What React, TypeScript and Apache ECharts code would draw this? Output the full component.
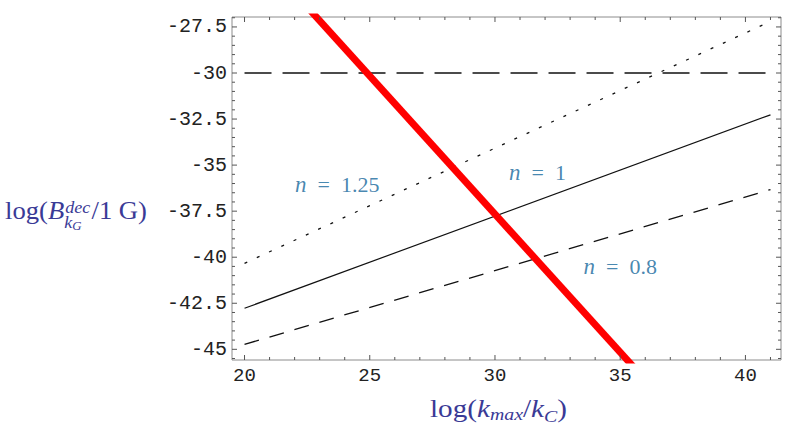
import React, { useEffect, useRef } from "react";
import * as echarts from "echarts";

// ---- data ----
const lineX = [20, 41];
const nOne = [-42.77, -32.27]; // n = 1 (solid)
const nPoint8 = [-44.73, -36.33]; // n = 0.8 (dashed)
const nOnePoint25 = [-40.33, -27.2]; // n = 1.25 (dotted)
const bound = [-30, -30]; // horizontal long dash
const redLine = [-22.66, -54.16]; // thick red

const xTickLabels = [20, 25, 30, 35, 40];
const xMinorTicks = [20, 21, 22, 23, 24, 25, 26, 27, 28, 29, 30, 31, 32, 33, 34, 35, 36, 37, 38, 39, 40, 41];
const yTickLabels = [-45, -42.5, -40, -37.5, -35, -32.5, -30, -27.5];
const yMinorTicks: number[] = [
  -45.5, -45, -44.5, -44, -43.5, -43, -42.5, -42, -41.5, -41, -40.5, -40, -39.5, -39, -38.5, -38,
  -37.5, -37, -36.5, -36, -35.5, -35, -34.5, -34, -33.5, -33, -32.5, -32, -31.5, -31, -30.5, -30,
  -29.5, -29, -28.5, -28, -27.5, -27,
];

const annotations = [
  { name: "1.25", x: 23.7, y: -36.05 },
  { name: "1", x: 31.7, y: -35.4 },
  { name: "0.8", x: 35.0, y: -40.53 },
];

const X_MIN = 19.5;
const X_MAX = 41.42;
const Y_MIN = -45.58;
const Y_MAX = -26.96;

const pairs = (ys: number[]) => lineX.map((x, i) => [x, ys[i]]);

const SERIF = "Liberation Serif";
const TITLE_COLOR = "#3a3a96";
const ANN_COLOR = "#17689c";

let ctx2d: CanvasRenderingContext2D | null = null;
const fontStr = (size: number, italic: boolean) => `${italic ? "italic " : ""}${size}px "${SERIF}"`;
const measure = (t: string, size: number, italic: boolean) => {
  if (!ctx2d) ctx2d = document.createElement("canvas").getContext("2d");
  if (!ctx2d) return t.length * size * 0.5;
  ctx2d.font = fontStr(size, italic);
  return ctx2d.measureText(t).width;
};

type Piece = { t: string; s: number; i?: boolean; base?: number; row?: "sup" | "sub" | "after"; gap?: number };

// lay out text fragments left to right; "sup" fragments are stacked above "sub" fragments
function titleGroup(pieces: Piece[], x0: number, baseline: number, targetWidth: number) {
  const children: any[] = [];
  let x = 0;
  let stackX = -1;
  let supEnd = 0;
  for (const p of pieces) {
    if (p.row === "sup" && stackX < 0) {
      stackX = x;
    }
    if (p.row === "sub" && supEnd === 0) {
      supEnd = x;
      x = stackX;
    }
    if (p.row === "after") {
      x = Math.max(x, supEnd);
    }
    x += p.gap ?? 0;
    const w = measure(p.t, p.s, !!p.i);
    const b = p.base ?? 0;
    children.push({
      type: "text",
      x,
      y: b - 0.35 * p.s,
      style: {
        text: p.t,
        fill: TITLE_COLOR,
        font: fontStr(p.s, !!p.i),
        verticalAlign: "middle",
        align: "left",
      },
    });
    x += w;
  }
  return {
    type: "group",
    x: x0,
    y: baseline,
    scaleX: targetWidth / x,
    children,
  };
}

export default function App() {
  const ref = useRef<HTMLDivElement>(null);
  useEffect(() => {
    document.body.style.margin = "0";
    if (!ref.current) return;
    const chart = echarts.init(ref.current, null, { renderer: "svg" });
    const tickColor = "#555";

    const xTickSeries = {
      type: "custom",
      coordinateSystem: "cartesian2d",
      silent: true,
      clip: false,
      z: 5,
      data: xMinorTicks.map((v) => [v, -40]),
      renderItem: (_p: any, api: any) => {
        const v = api.value(0);
        const major = xTickLabels.indexOf(v) >= 0;
        const len = major ? 5 : 3;
        const b = api.coord([v, Y_MIN]);
        const t = api.coord([v, Y_MAX]);
        return {
          type: "group",
          children: [
            { type: "line", shape: { x1: b[0], y1: b[1], x2: b[0], y2: b[1] - len }, style: { stroke: tickColor, lineWidth: 1 } },
            { type: "line", shape: { x1: t[0], y1: t[1], x2: t[0], y2: t[1] + len }, style: { stroke: tickColor, lineWidth: 1 } },
          ],
        };
      },
    };
    const yTickSeries = {
      type: "custom",
      coordinateSystem: "cartesian2d",
      silent: true,
      clip: false,
      z: 5,
      data: yMinorTicks.map((v) => [30, v]),
      renderItem: (_p: any, api: any) => {
        const v = api.value(1);
        const major = yTickLabels.indexOf(v) >= 0;
        const len = major ? 5 : 3;
        const l = api.coord([X_MIN, v]);
        const r = api.coord([X_MAX, v]);
        return {
          type: "group",
          children: [
            { type: "line", shape: { x1: l[0], y1: l[1], x2: l[0] + len, y2: l[1] }, style: { stroke: tickColor, lineWidth: 1 } },
            { type: "line", shape: { x1: r[0], y1: r[1], x2: r[0] - len, y2: r[1] }, style: { stroke: tickColor, lineWidth: 1 } },
          ],
        };
      },
    };

    const leftTitle = titleGroup(
      [
        { t: "log(", s: 25 },
        { t: "B", s: 25, i: true },
        { t: "dec", s: 17, i: true, base: -7, row: "sup", gap: 1 },
        { t: "k", s: 17, i: true, base: 8, row: "sub" },
        { t: "G", s: 12, i: true, base: 10 },
        { t: "/1 G)", s: 25, row: "after", gap: 1 },
      ],
      5,
      220,
      142
    );
    const bottomTitle = titleGroup(
      [
        { t: "log(", s: 25 },
        { t: "k", s: 25, i: true },
        { t: "max", s: 17, i: true, base: 3 },
        { t: "/", s: 25 },
        { t: "k", s: 25, i: true },
        { t: "C", s: 17, i: true, base: 5 },
        { t: ")", s: 25 },
      ],
      430,
      417,
      137
    );

    chart.setOption({
      animation: false,
      backgroundColor: "#fff",
      grid: {
        left: 232,
        top: 17,
        right: 15,
        bottom: 76,
        show: true,
        borderColor: "#8c8c8c",
        borderWidth: 1,
        containLabel: false,
      },
      xAxis: {
        type: "value",
        min: X_MIN,
        max: X_MAX,
        axisLine: { show: false },
        axisTick: { show: false },
        splitLine: { show: false },
        axisLabel: {
          customValues: xTickLabels,
          margin: 6,
          color: "#222",
          fontFamily: "Liberation Mono",
          fontSize: 19,
        },
      },
      yAxis: {
        type: "value",
        min: Y_MIN,
        max: Y_MAX,
        axisLine: { show: false },
        axisTick: { show: false },
        splitLine: { show: false },
        axisLabel: {
          customValues: yTickLabels,
          margin: 5,
          color: "#222",
          fontFamily: "Liberation Mono",
          fontSize: 20,
        },
      },
      graphic: [leftTitle, bottomTitle],
      series: [
        {
          type: "line",
          data: pairs(bound),
          symbol: "none",
          lineStyle: { color: "#111", width: 1.3, type: [27, 11] },
          z: 2,
        },
        {
          type: "line",
          data: pairs(nOnePoint25),
          symbol: "none",
          lineStyle: { color: "#111", width: 1.3, type: [3, 10.5] },
          z: 2,
        },
        {
          type: "line",
          data: pairs(nOne),
          symbol: "none",
          lineStyle: { color: "#111", width: 1.2, type: "solid" },
          z: 2,
        },
        {
          type: "line",
          data: pairs(nPoint8),
          symbol: "none",
          lineStyle: { color: "#111", width: 1.3, type: [15, 11] },
          z: 2,
        },
        {
          type: "line",
          data: pairs(redLine),
          symbol: "none",
          clip: true,
          lineStyle: { color: "#ff0000", width: 7 },
          z: 3,
        },
        {
          type: "scatter",
          data: annotations.map((a) => ({ value: [a.x, a.y], name: a.name })),
          symbolSize: 0,
          silent: true,
          z: 4,
          label: {
            show: true,
            position: "inside",
            formatter: (p: any) => `{i|n}\u2002=\u2002${p.name}`,
            color: ANN_COLOR,
            fontFamily: SERIF,
            fontSize: 22,
            rich: {
              i: { fontStyle: "italic", fontFamily: SERIF, fontSize: 23, color: ANN_COLOR },
            },
          },
        },
        xTickSeries,
        yTickSeries,
      ],
    });
    return () => chart.dispose();
  }, []);
  return <div ref={ref} style={{ width: 796, height: 436 }} />;
}
